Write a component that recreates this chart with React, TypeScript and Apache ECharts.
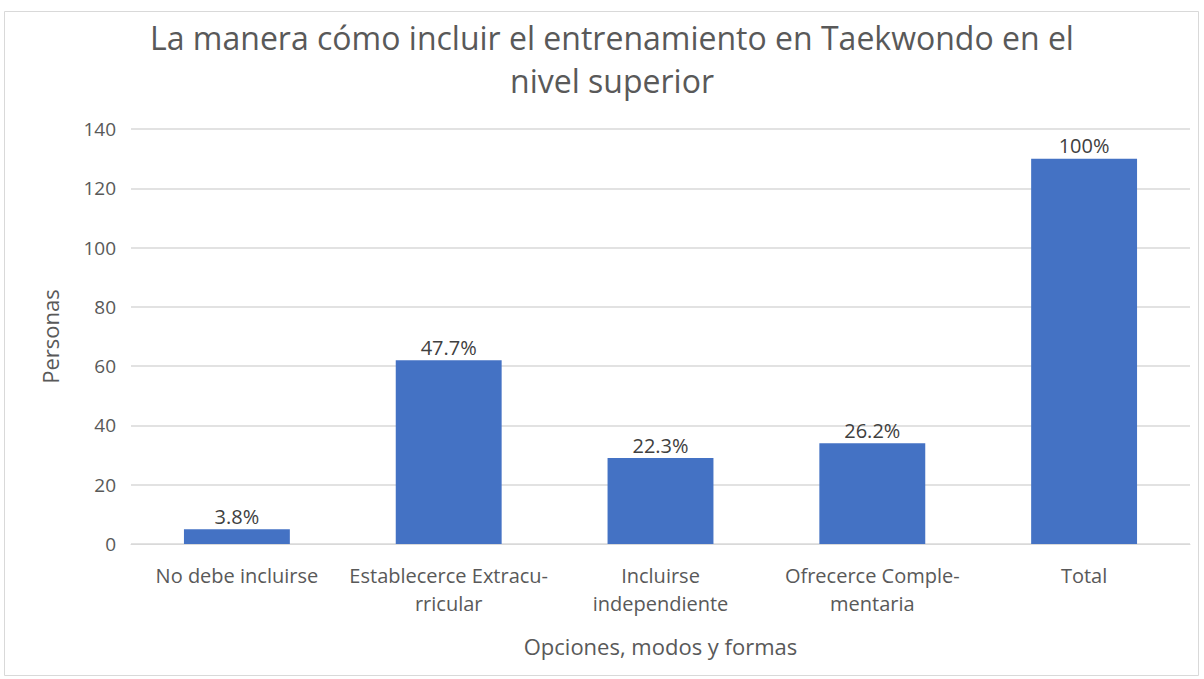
import React, { useEffect, useRef } from "react";
import * as echarts from "echarts";

const categories = [
  "No debe incluirse",
  "Establecerce Extracu-\nrricular",
  "Incluirse\nindependiente",
  "Ofrecerce Comple-\nmentaria",
  "Total",
];
const values = [5, 62, 29, 34, 130];
const pctLabels = ["3.8%", "47.7%", "22.3%", "26.2%", "100%"];
const titleText = "La manera cómo incluir el entrenamiento en Taekwondo en el\nnivel superior";
const yName = "Personas";
const xName = "Opciones, modos y formas";

const FONT = "'Open Sans', 'Liberation Sans', sans-serif";
const GREY = "#595959";

export default function App() {
  const ref = useRef<HTMLDivElement>(null);
  useEffect(() => {
    if (!ref.current) return;
    const chart = echarts.init(ref.current, undefined, { renderer: "svg" });
    chart.setOption({
      animation: false,
      backgroundColor: "#ffffff",
      textStyle: { fontFamily: FONT },
      graphic: [
        {
          type: "rect",
          shape: { x: 4.5, y: 11.5, width: 1194, height: 664 },
          style: { fill: "none", stroke: "#d9d9d9", lineWidth: 1 },
          silent: true,
        },
        {
          type: "text",
          x: 612,
          y: 16,
          silent: true,
          style: {
            text: titleText,
            fontFamily: FONT,
            fontSize: 32,
            fill: GREY,
            align: "center",
            verticalAlign: "top",
            lineHeight: 43,
          },
        },
      ],
      grid: { left: 131, right: 14, top: 129, bottom: 135, containLabel: false },
      xAxis: {
        type: "category",
        data: categories,
        name: xName,
        nameLocation: "middle",
        nameGap: 91,
        nameTextStyle: { fontFamily: FONT, fontSize: 22, color: GREY },
        axisLine: { show: true, lineStyle: { color: "#d9d9d9", width: 1 } },
        axisTick: { show: false },
        axisLabel: {
          fontFamily: FONT,
          fontSize: 20,
          color: GREY,
          margin: 17,
          lineHeight: 28,
          interval: 0,
        },
      },
      yAxis: {
        type: "value",
        min: 0,
        max: 140,
        interval: 20,
        name: yName,
        nameLocation: "middle",
        nameGap: 70,
        nameRotate: 90,
        nameTextStyle: { fontFamily: FONT, fontSize: 22, color: GREY },
        axisLine: { show: false },
        axisTick: { show: false },
        axisLabel: { fontFamily: FONT, fontSize: 19, color: GREY, margin: 15 },
        splitLine: { lineStyle: { color: "#d9d9d9", width: 1.5 } },
      },
      series: [
        {
          type: "bar",
          data: values,
          barWidth: "50%",
          itemStyle: { color: "#4472c4" },
          label: {
            show: true,
            position: "top",
            distance: 3,
            fontFamily: FONT,
            fontSize: 20,
            color: "#404040",
            formatter: (p: any) => pctLabels[p.dataIndex],
          },
        },
      ],
    });
    return () => chart.dispose();
  }, []);
  return (
    <div
      ref={ref}
      style={{ position: "fixed", left: 0, top: 0, width: 1204, height: 679 }}
    />
  );
}
